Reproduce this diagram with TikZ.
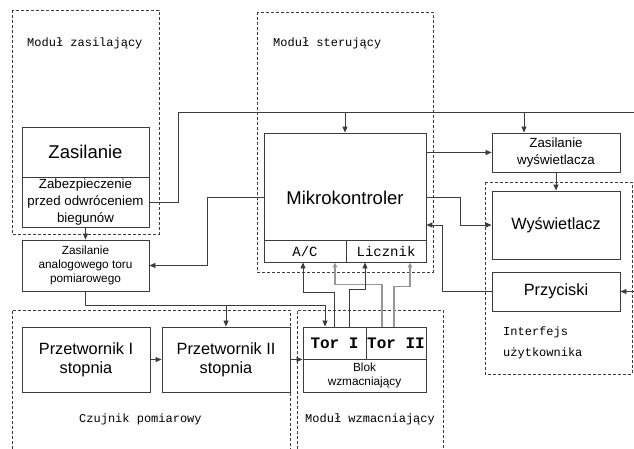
\documentclass[tikz,border=0pt]{standalone}
\usepackage{fontspec}
\setmainfont{Liberation Sans}
\setmonofont{Liberation Mono}
\usepackage{tikz}
\usetikzlibrary{arrows.meta}
\definecolor{ramka}{RGB}{60,60,60}
\definecolor{szary}{RGB}{150,150,150}
\newcommand{\duzy}{\fontsize{18.5}{21}\selectfont}
\newcommand{\sredni}{\fontsize{16.3}{19}\selectfont}
\newcommand{\maly}{\fontsize{13.3}{16.7}\selectfont}
\newcommand{\drobny}{\fontsize{11.8}{14.3}\selectfont}

\begin{document}
\begin{tikzpicture}[x=1pt, y=-1pt,
    blok/.style={draw=ramka, line width=0.9pt, align=center, inner sep=0pt},
    modul/.style={draw=ramka, dashed, dash pattern=on 3pt off 2pt, line width=0.8pt},
    opis/.style={anchor=west, inner sep=0pt, font=\ttfamily\fontsize{12}{21}\selectfont},
    arr/.style={->, >={Triangle[length=6pt,width=5pt]}, line width=0.8pt, draw=ramka},
    garr/.style={arr, draw=szary, line width=1.4pt, >={Triangle[length=5pt,width=4.5pt]}}]
    \useasboundingbox (0,0) rectangle (634,449);

    % Moduly (ramki przerywane)
    \draw[modul] (12,10) rectangle (159,234);
    \draw[modul] (257,12) rectangle (433,272);
    \draw[modul] (12,449) |- (290,310) -- (290,449);
    \draw[modul] (297,449) |- (443,310) -- (443,449);
    \draw[modul] (485,182) rectangle (632,374);

    \node[opis] at (27,43) {Moduł zasilający};
    \node[opis] at (273,43) {Moduł sterujący};
    \node[opis] at (79,419) {Czujnik pomiarowy};
    \node[opis] at (305,419) {Moduł wzmacniający};
    \node[opis, align=left] at (503,342.5) {Interfejs\\użytkownika};

    % Bloki
    \node[blok, minimum width=127, minimum height=50, font=\duzy] (zas) at (85.5,152) {Zasilanie};
    \node[blok, minimum width=127, minimum height=50, font=\maly] (zab) at (85.5,202) {Zabezpieczenie\\przed odwróceniem\\biegunów};
    \node[blok, minimum width=127, minimum height=51, font=\drobny] (zan) at (85.5,265.5) {Zasilanie\\analogowego toru\\pomiarowego};
    \node[blok, minimum width=162, minimum height=129, font=\duzy] (mikro) at (345,197.5) {Mikrokontroler};
    \node[blok, minimum width=82, minimum height=22, font=\ttfamily\fontsize{14}{16}\selectfont] (ac) at (305,251) {A/C};
    \node[blok, minimum width=80, minimum height=22, font=\ttfamily\fontsize{14}{16}\selectfont] (licz) at (386,251) {Licznik};
    \node[blok, minimum width=128, minimum height=39, font=\maly] (zasw) at (556,152.5) {Zasilanie\\wyświetlacza};
    \node[blok, minimum width=128, minimum height=68, font=\sredni] (wys) at (556,225) {Wyświetlacz};
    \node[blok, minimum width=128, minimum height=39, font=\sredni] (przy) at (556,291.5) {Przyciski};
    \node[blok, minimum width=128, minimum height=65, font=\sredni] (prz1) at (86,359.5) {Przetwornik I\\stopnia};
    \node[blok, minimum width=128, minimum height=65, font=\sredni] (prz2) at (226,359.5) {Przetwornik II\\stopnia};
    \node[blok, minimum width=63, minimum height=32, font=\ttfamily\bfseries\fontsize{16}{18}\selectfont] (tor1) at (334.5,343) {Tor I};
    \node[blok, minimum width=60, minimum height=32, font=\ttfamily\bfseries\fontsize{16}{18}\selectfont] (tor2) at (396,343) {Tor II};
    \node[blok, minimum width=123, minimum height=33, font=\drobny] (wzm) at (364.5,375.5) {Blok\\wzmacniający};

    % Szyna zasilania
    \coordinate (szynaL) at (178,112);
    \coordinate (szynaP) at (634,112);
    \coordinate (klaw) at (634,291.5);
    \draw[draw=ramka, line width=0.8pt] (zab.east) -| (szynaL) -- (szynaP);
    \draw[arr] (mikro.north |- szynaL) -- (mikro.north);
    \draw[arr] ([xshift=-32]zasw.north |- szynaL) -- ([xshift=-32]zasw.north);

    % Polaczenia
    \draw[arr] (zab.south) -- (zan.north);
    \draw[arr] (mikro.west) -- ++(-56,0) |- (zan.east);
    \draw[arr] (zan.south) -- ++(0,14) -| ([xshift=-9.5]tor1.north);
    \draw[arr] (prz2.north |- 0,305) -- (prz2.north);
    \draw[arr] (prz1) -- (prz2);
    \draw[arr] (prz2.east) -- (tor1.south west);
    \draw[arr] (mikro.east |- zasw.west) -- (zasw.west);
    \draw[arr] (mikro.east) -- ++(34,0) |- (wys.west);
    \draw[arr] (przy.west) -- ++(-49,0) |- (mikro.east |- 0,225);
    \draw[arr] (klaw) -- (przy.east);
    \draw[arr] (zasw) -- (wys);

    % Tory -> mikrokontroler
    \draw[garr] ([xshift=-14]tor2.north) -- ++(0,-42) -| ([xshift=30]ac.south);
    \draw[garr] ([xshift=-2]tor2.north) -- ++(0,-40) -| ([xshift=24]licz.south);
    \draw[arr] (tor1.north) -- ++(0,-34) -| ([xshift=-2]ac.south);
    \draw[arr] ([xshift=14.5]tor1.north) -- ++(0,-37) -| ([xshift=-21]licz.south);
\end{tikzpicture}
\end{document}
